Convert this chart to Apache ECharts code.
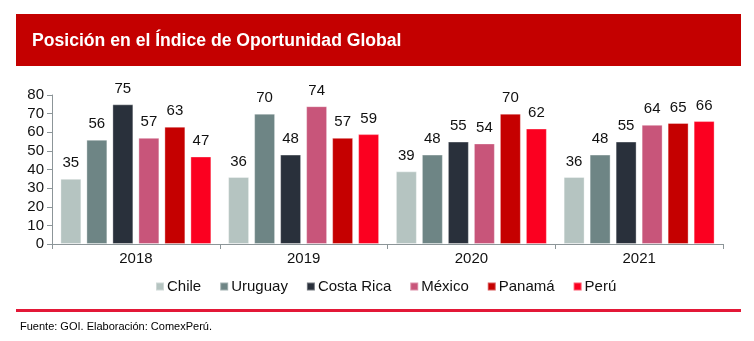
<!DOCTYPE html>
<html>
<head>
<meta charset="utf-8">
<script src="https://cdn.jsdelivr.net/npm/echarts@6/dist/echarts.min.js"></script>
<style>
  html, body { margin: 0; padding: 0; background: #ffffff; }
  #chart { width: 754px; height: 341px; }
</style>
</head>
<body>
<div id="chart"></div>
<script>
// Ranking positions per country and year
const years = ['2018', '2019', '2020', '2021'];
const countries = ['Chile', 'Uruguay', 'Costa Rica', 'México', 'Panamá', 'Perú'];
const chile     = [35, 36, 39, 36];
const uruguay   = [56, 70, 48, 48];
const costaRica = [75, 48, 55, 55];
const mexico    = [57, 74, 54, 64];
const panama    = [63, 57, 70, 65];
const peru      = [47, 59, 62, 66];
const yTicks    = [0, 10, 20, 30, 40, 50, 60, 70, 80];

const colors = ['#b5c4c1', '#6e8585', '#29303b', '#c8557a', '#c50000', '#fb0020'];
const values = [chile, uruguay, costaRica, mexico, panama, peru];
const FONT = '"Liberation Sans", Arial, sans-serif';

const chart = echarts.init(document.getElementById('chart'), null, { renderer: 'canvas' });

chart.setOption({
  animation: false,
  color: colors,
  textStyle: { fontFamily: FONT },
  grid: { left: 52, right: 31, top: 95, bottom: 97, containLabel: false },
  legend: {
    top: 274,
    left: 150,
    itemWidth: 8,
    itemHeight: 8,
    itemGap: 18,
    icon: 'rect',
    textStyle: { fontFamily: FONT, fontSize: 15, color: '#111', padding: [0, 0, 0, -2] },
    data: countries
  },
  xAxis: {
    type: 'category',
    data: years,
    axisLine: { lineStyle: { color: '#8c9598', width: 1 } },
    axisTick: { show: true, length: 5, lineStyle: { color: '#8c9598' } },
    axisLabel: { fontFamily: FONT, fontSize: 15, color: '#111', margin: 7 }
  },
  yAxis: {
    type: 'value',
    min: yTicks[0],
    max: yTicks[yTicks.length - 1],
    interval: 10,
    axisLine: { show: true, lineStyle: { color: '#8c9598', width: 1 } },
    axisTick: { show: true, length: 5, lineStyle: { color: '#8c9598' } },
    splitLine: { show: false },
    axisLabel: { fontFamily: FONT, fontSize: 15, color: '#111', margin: 8 }
  },
  series: countries.map((name, i) => ({
    name: name,
    type: 'bar',
    data: values[i],
    barGap: '24%',
    barCategoryGap: '10%',
    itemStyle: { color: colors[i], borderColor: 'rgba(255,255,255,0.35)', borderWidth: 1 },
    label: {
      show: true,
      position: 'top',
      distance: 8,
      fontFamily: FONT,
      fontSize: 15,
      color: '#111'
    }
  })),
  graphic: [
    {
      type: 'rect',
      shape: { x: 16, y: 14, width: 725, height: 52 },
      style: { fill: '#c40000' },
      silent: true
    },
    {
      type: 'text',
      x: 32,
      y: 41,
      style: {
        text: 'Posición en el Índice de Oportunidad Global',
        fill: '#ffffff',
        font: 'bold 17.6px ' + FONT,
        textVerticalAlign: 'middle'
      },
      silent: true
    },
    {
      type: 'rect',
      shape: { x: 16, y: 309, width: 725, height: 3 },
      style: { fill: '#e31837' },
      silent: true
    },
    {
      type: 'text',
      x: 20,
      y: 327,
      style: {
        text: 'Fuente: GOI. Elaboración: ComexPerú.',
        fill: '#000',
        font: '11px ' + FONT,
        textVerticalAlign: 'middle'
      },
      silent: true
    }
  ]
});
</script>
</body>
</html>
